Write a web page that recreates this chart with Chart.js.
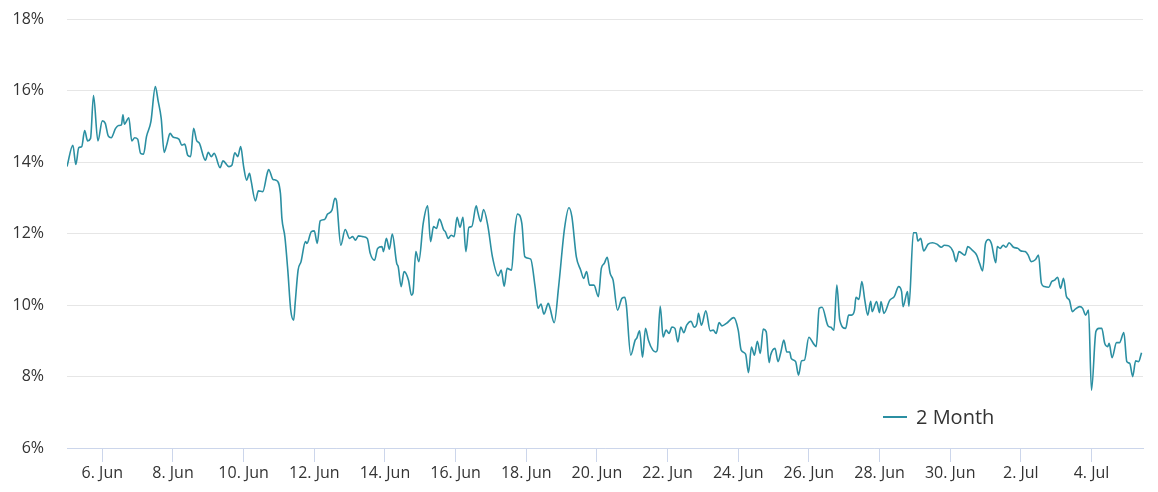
<!DOCTYPE html>
<html>
<head>
<meta charset="utf-8">
<script src="https://cdn.jsdelivr.net/npm/chart.js@4/dist/chart.umd.min.js"></script>
<style>
  html, body { margin: 0; padding: 0; background: #ffffff; }
  #wrap { position: relative; width: 1158px; height: 492px; }
</style>
</head>
<body>
<div id="wrap"><canvas id="c"></canvas></div>
<script>
// Hours since 5 Jun 00:00
const hours = [
  0,4,6,8,10,12,14,16,18,21,24,26,28,30,33,35,37,38,39,42,44,46,48,50,52,54,57,60,62,64,66,68,70,72,76,78,80,82,84,86,88,90,94,96,98,100,
  104,106,110,112,114,116,118,120,122,124,125,128,130,133,136,137,140,142,145,146,148,150,152,154,155,157,159,162,163,166,168,170,172,175,177,180,182,183,186,189,192,194,196,198,
  201,204,206,209,211,214,215,217,219,221,224,225,227,229,232,234,235,237,239,242,245,247,249,251,253,256,257,259,261,263,265,267,269,271,273,275,278,279,281,283,286,289,293,295,297,299,
  302,304,306,309,311,315,318,320,322,324,327,328,331,334,338,341,343,346,349,351,353,355,358,361,363,365,367,369,371,374,377,379,380,383,386,387,389,391,393,395,398,400,401,
  403,405,407,409,411,413,415,417,419,421,424,426,428,429,431,434,437,439,441,443,445,448,453,456,458,461,463,465,467,469,471,473,475,477,478,481,483,485,487,489,491,492,495,497,499,501,
  504,507,509,511,513,517,519,521,523,525,529,531,533,535,536,538,540,542,544,546,547,550,552,553,555,559,562,565,567,568,571,572,575,577,578,580,582,585,588,591,594,596,599,
  602,604,606,610,612,615,618,620,622,624,626,628,631,632,634,636,638,640,643,646,648,651,653,655,658,660,662,664,667,669,671,673,675,677,679,681,683,685,688,690,692,694,696,699,
  701,703,705,707,708,710,713,715,718,720,722,724,726,728,730
];
const rates = [
  13.88,14.48,13.94,14.41,14.44,14.89,14.6,14.67,15.87,14.6,15.16,15.09,14.74,14.69,14.95,15.03,15.05,15.33,15.07,15.25,14.6,14.69,14.65,14.25,14.23,14.72,15.14,16.12,15.7,15.23,14.28,14.53,14.81,14.71,14.65,14.48,14.51,14.2,14.16,14.95,14.62,14.53,14.06,14.28,14.16,14.25,
  13.85,14.04,13.88,13.92,14.27,14.16,14.44,13.88,13.5,13.69,13.5,12.92,13.2,13.18,13.69,13.8,13.52,13.5,13.13,12.43,11.92,10.98,9.86,9.58,10.05,10.98,11.22,11.78,11.73,12.06,12.08,11.73,12.36,12.4,12.55,12.66,12.99,12.94,11.68,12.12,11.87,11.92,11.82,11.94,
  11.92,11.87,11.45,11.26,11.59,11.64,11.5,11.87,11.57,11.99,11.17,11.08,10.52,10.94,10.7,10.28,10.33,11.5,11.22,12.29,12.78,11.78,12.2,12.15,12.41,12.1,12.06,11.87,11.96,11.92,12.46,12.18,12.46,11.5,12.18,12.2,12.78,12.62,12.34,12.68,12.2,11.36,10.82,10.98,10.53,11.03,
  10.98,12.01,12.55,12.29,11.36,11.29,10.52,9.91,10.03,9.75,10.05,9.94,9.51,10.52,12.15,12.73,12.48,11.36,10.98,10.75,10.94,10.56,10.56,10.24,11.03,11.17,11.34,10.89,10.7,9.86,10.19,10.22,10.0,8.6,9.02,9.07,9.28,8.54,9.35,9.02,8.74,8.69,8.74,
  9.97,9.11,9.3,9.21,9.39,9.35,8.97,9.39,9.23,9.44,9.55,9.38,9.49,9.77,9.44,9.84,9.28,9.3,9.21,9.51,9.42,9.49,9.65,9.3,8.74,8.63,8.11,8.83,8.6,8.99,8.65,9.33,9.26,8.39,8.6,8.79,8.42,8.69,9.02,8.69,8.69,8.51,8.42,8.04,8.44,8.46,
  9.1,8.93,8.84,9.91,9.94,9.42,9.38,9.3,10.56,9.58,9.35,9.72,9.72,9.86,10.22,10.16,10.66,10.14,9.72,10.11,9.82,10.1,9.79,10.1,9.77,10.14,10.24,10.52,10.38,9.96,10.38,9.97,12.03,12.03,11.8,11.87,11.52,11.71,11.75,11.71,11.62,11.68,11.66,
  11.5,11.22,11.5,11.4,11.64,11.54,11.4,11.17,10.96,11.73,11.84,11.73,11.19,11.64,11.59,11.68,11.62,11.75,11.62,11.59,11.52,11.5,11.4,11.22,11.28,11.4,10.61,10.52,10.5,10.66,10.7,10.78,10.47,10.75,10.24,10.14,9.82,9.89,9.96,9.91,9.72,9.86,7.62,9.26,
  9.35,9.35,8.93,8.84,8.93,8.53,8.95,8.95,9.23,8.42,8.37,8.0,8.44,8.42,8.67
];
const tickHours = [24,72,120,168,216,264,312,360,408,456,504,552,600,648,696];
const tickLabels = ['6. Jun','8. Jun','10. Jun','12. Jun','14. Jun','16. Jun','18. Jun','20. Jun','22. Jun','24. Jun','26. Jun','28. Jun','30. Jun','2. Jul','4. Jul'];
const yTicks = [6,8,10,12,14,16,18];
const seriesName = '2 Month';

const FONT = "'Open Sans', 'DejaVu Sans', sans-serif";
const lineColor = '#2b8fa2';

const legendPlugin = {
  id: 'inLegend',
  afterDraw(chart) {
    const ctx = chart.ctx;
    const ds = chart.data.datasets[0];
    ctx.save();
    ctx.strokeStyle = ds.borderColor;
    ctx.lineWidth = 2;
    ctx.beginPath();
    ctx.moveTo(883, 417);
    ctx.lineTo(907, 417);
    ctx.stroke();
    ctx.fillStyle = '#333333';
    ctx.font = "20px " + FONT;
    ctx.textBaseline = 'middle';
    ctx.textAlign = 'left';
    ctx.fillText(ds.label, 916, 418);
    ctx.restore();
  }
};

new Chart(document.getElementById('c'), {
  type: 'line',
  data: {
    datasets: [{
      label: seriesName,
      data: hours.map((h, i) => ({ x: h, y: rates[i] })),
      borderColor: lineColor,
      borderWidth: 1.6,
      pointRadius: 0,
      fill: false,
      cubicInterpolationMode: 'monotone'
    }]
  },
  options: {
    responsive: true,
    maintainAspectRatio: false,
    animation: false,
    layout: { padding: { top: 19.5, right: 15, left: 0, bottom: 0 } },
    plugins: { legend: { display: false }, tooltip: { enabled: false } },
    scales: {
      x: {
        type: 'linear',
        min: 0,
        max: 731,
        afterBuildTicks: (s) => { s.ticks = tickHours.map(v => ({ value: v })); },
        afterFit: (s) => { s.height = 44; },
        ticks: {
          autoSkip: false,
          maxRotation: 0,
          padding: 2,
          color: '#333333',
          font: { family: FONT, size: 16 },
          callback: (v, i) => tickLabels[i]
        },
        grid: { drawOnChartArea: false, tickLength: 14, color: '#ccd6eb' },
        border: { color: '#ccd6eb', width: 1 }
      },
      y: {
        min: 6,
        max: 18,
        afterBuildTicks: (s) => { s.ticks = yTicks.map(v => ({ value: v })); },
        afterFit: (s) => { s.width = 67; s.paddingTop = 0; s.paddingBottom = 0; },
        ticks: {
          padding: 23,
          color: '#333333',
          font: { family: FONT, size: 16 },
          callback: (v) => v + '%'
        },
        grid: { color: '#e6e6e6', drawTicks: false },
        border: { display: false }
      }
    }
  },
  plugins: [legendPlugin]
});
</script>
</body>
</html>
